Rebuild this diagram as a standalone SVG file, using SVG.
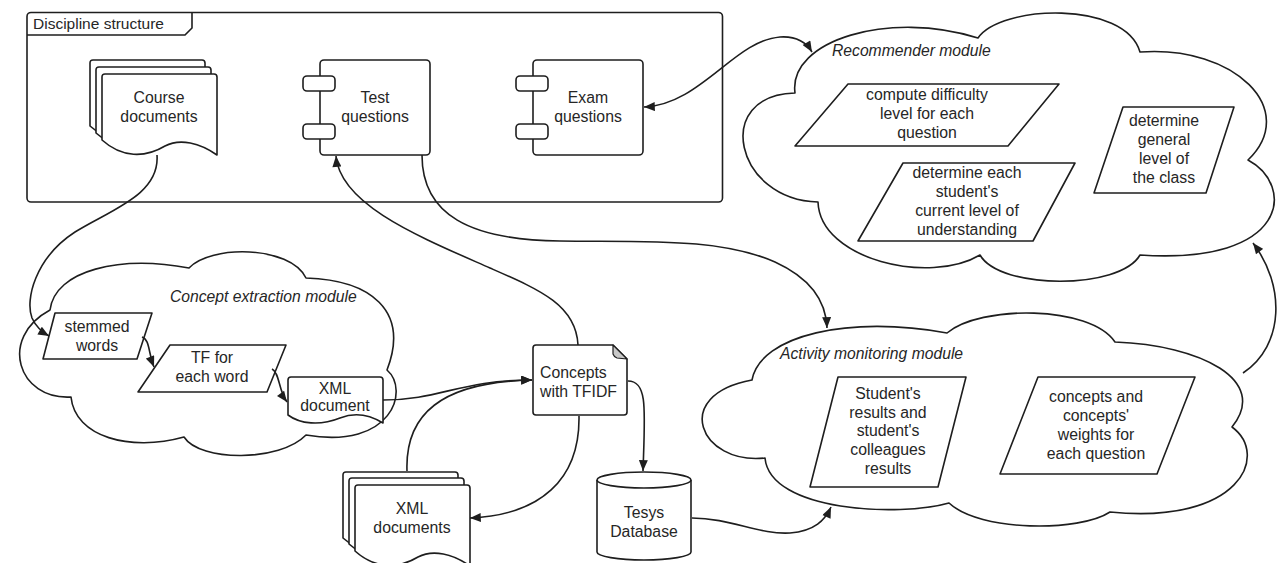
<svg xmlns="http://www.w3.org/2000/svg" width="1278" height="563" viewBox="0 0 1278 563">
<style>
.s{fill:#fff;stroke:#1e1e1e;stroke-width:1.6;stroke-linejoin:round}
.c{fill:none;stroke:#1e1e1e;stroke-width:1.6}
.t{font-family:"Liberation Sans",Arial,sans-serif;font-size:15.8px;fill:#262626;text-anchor:middle}
.ti{font-family:"Liberation Sans",Arial,sans-serif;font-size:15.7px;fill:#262626;font-style:italic}
.tl{font-family:"Liberation Sans",Arial,sans-serif;font-size:15.5px;fill:#262626}
</style>
<defs>
<marker id="ah" viewBox="0 0 12 10" refX="12" refY="5" markerWidth="12" markerHeight="9" markerUnits="userSpaceOnUse" orient="auto-start-reverse">
<path d="M0,0 L12,5 L0,10 Z" fill="#1e1e1e"/>
</marker>
<path id="doc" d="M0,66 V3 Q0,0 3,0 H112 Q115,0 115,3 V81 C98,69 78,64 63,72 C43,84 20,84 0,66 Z"/>
</defs>

<g id="discipline">
<rect class="s" x="27" y="12.5" width="695.5" height="189.5" rx="4"/>
<path class="c" d="M27,35 H185 L192,28 V12.5"/>
<text class="tl" x="33" y="28.5">Discipline structure</text>
</g>

<g id="course-documents">
<use href="#doc" class="s" x="90" y="60"/>
<use href="#doc" class="s" x="96" y="67"/>
<use href="#doc" class="s" x="102" y="74"/>
<text class="t" x="159" y="102.5">Course</text>
<text class="t" x="159" y="121.5">documents</text>
</g>

<g id="test-questions">
<rect class="s" x="320" y="60" width="110" height="95" rx="4"/>
<rect class="s" x="303" y="76" width="32" height="15" rx="4"/>
<rect class="s" x="303" y="124" width="32" height="15" rx="4"/>
<text class="t" x="375" y="102.5">Test</text>
<text class="t" x="375" y="121.5">questions</text>
</g>

<g id="exam-questions">
<rect class="s" x="533" y="60" width="110" height="95" rx="4"/>
<rect class="s" x="516" y="76" width="32" height="15" rx="4"/>
<rect class="s" x="516" y="124" width="32" height="15" rx="4"/>
<text class="t" x="588" y="102.5">Exam</text>
<text class="t" x="588" y="121.5">questions</text>
</g>

<g id="recommender-module">
<path class="s" d="M795,93 C788,40 890,10 978,38 C1000,5 1125,0 1140,52 C1235,45 1300,110 1248,160 C1295,185 1290,265 1140,255 C1120,290 1000,290 980,255 C930,285 820,260 818,202 C735,200 712,95 795,93 Z"/>
<text class="ti" x="832" y="55.5">Recommender module</text>
<g id="compute-difficulty">
<polygon class="s" points="848,84 1059,84 1008,146 795,146"/>
<text class="t" x="927" y="99.5">compute difficulty</text>
<text class="t" x="927" y="118.5">level for each</text>
<text class="t" x="927" y="137.5">question</text>
</g>
<g id="determine-student-level">
<polygon class="s" points="903,163 1075,163 1033,241 858,241"/>
<text class="t" x="967" y="177.5">determine each</text>
<text class="t" x="967" y="196.5">student's</text>
<text class="t" x="967" y="215.5">current level of</text>
<text class="t" x="967" y="234.5">understanding</text>
</g>
<g id="determine-class-level">
<polygon class="s" points="1123,107 1234,107 1206,193 1094,193"/>
<text class="t" x="1164" y="125.5">determine</text>
<text class="t" x="1164" y="144.5">general</text>
<text class="t" x="1164" y="163.5">level of</text>
<text class="t" x="1164" y="182.5">the class</text>
</g>
</g>

<g id="concept-extraction-module">
<path class="s" d="M50,310 C55,270 120,255 189,268 C210,245 290,245 306,278 C370,280 410,310 387,370 C410,390 392,450 306,435 C280,462 200,462 184,437 C130,452 75,437 71,397 C18,400 -2,338 50,310 Z"/>
<text class="ti" x="170" y="301.5">Concept extraction module</text>
<g id="stemmed-words">
<polygon class="s" points="55,313 152,313 137,359 43,359"/>
<text class="t" x="97" y="331.5">stemmed</text>
<text class="t" x="97" y="350.5">words</text>
</g>
<g id="tf-each-word">
<polygon class="s" points="170,345 286,345 267,392 138,392"/>
<text class="t" x="212" y="362.5">TF for</text>
<text class="t" x="212" y="381.5">each word</text>
</g>
<g id="xml-document">
<path class="s" d="M288,415 V380 Q288,377 291,377 H380 Q383,377 383,380 V423 C370,415 355,412 340,418 C320,426 300,424 288,415 Z"/>
<text class="t" x="335" y="393.5">XML</text>
<text class="t" x="335" y="410.5">document</text>
</g>
</g>

<g id="concepts-tfidf">
<path class="s" d="M536,345 H613 L627,359 V412 Q627,415 624,415 H536 Q533,415 533,412 V348 Q533,345 536,345 Z"/>
<path d="M613,345 L627,359 L617,358 Q614,357 613,354 Z" fill="#c8c8c8" stroke="#1e1e1e" stroke-width="1.2" stroke-linejoin="round"/>
<text class="t" x="540" y="377.5" style="text-anchor:start">Concepts</text>
<text class="t" x="540" y="396.5" style="text-anchor:start">with TFIDF</text>
</g>

<g id="xml-documents">
<use href="#doc" class="s" x="343" y="472"/>
<use href="#doc" class="s" x="349" y="478"/>
<use href="#doc" class="s" x="355" y="485"/>
<text class="t" x="412" y="513.5">XML</text>
<text class="t" x="412" y="532.5">documents</text>
</g>

<g id="tesys-database">
<path class="s" d="M597,480 V552 A47,8 0 0 0 691,552 V480 A47,8 0 0 0 597,480 Z"/>
<path class="c" d="M597,480 A47,8 0 0 0 691,480"/>
<text class="t" x="644" y="517.5">Tesys</text>
<text class="t" x="644" y="536.5">Database</text>
</g>

<g id="activity-monitoring-module">
<path class="s" d="M752,380 C760,335 850,315 947,333 C980,305 1090,305 1115,342 C1200,345 1270,380 1232,427 C1270,455 1240,525 1110,512 C1080,532 980,532 949,503 C900,517 770,512 765,458 C700,465 670,395 752,380 Z"/>
<text class="ti" x="780" y="358.5">Activity monitoring module</text>
<g id="student-results">
<polygon class="s" points="838,377 966,377 938,487 810,487"/>
<text class="t" x="888" y="398.5">Student's</text>
<text class="t" x="888" y="417.5">results and</text>
<text class="t" x="888" y="435.5">student's</text>
<text class="t" x="888" y="454.5">colleagues</text>
<text class="t" x="888" y="473.5">results</text>
</g>
<g id="concepts-weights">
<polygon class="s" points="1038,377 1195,377 1157,474 1000,474"/>
<text class="t" x="1096" y="401.5">concepts and</text>
<text class="t" x="1096" y="420.5">concepts'</text>
<text class="t" x="1096" y="439.5">weights for</text>
<text class="t" x="1096" y="458.5">each question</text>
</g>
</g>

<g id="connectors">
<path class="c" marker-end="url(#ah)" d="M157,155 C160,195 110,210 75,232 C35,258 25,300 32,318 C36,327 42,332 49,336"/>
<path class="c" marker-end="url(#ah)" d="M142,337 C150,340 148,352 154,367"/>
<path class="c" marker-end="url(#ah)" d="M272,369 C280,373 278,390 287,402"/>
<path class="c" marker-end="url(#ah)" d="M383,400 C440,400 460,380 532,380"/>
<path class="c" marker-end="url(#ah)" d="M407,471 C405,415 440,382 532,380"/>
<path class="c" marker-end="url(#ah)" d="M579,416 C580,480 540,515 470,518"/>
<path class="c" marker-end="url(#ah)" d="M628,381 C648,381 645,410 643,471"/>
<path class="c" marker-end="url(#ah)" d="M578,345 C576,305 540,290 490,268 C420,237 340,205 336,156"/>
<path class="c" marker-end="url(#ah)" d="M422,155 C422,215 470,240 560,241 C650,242 720,238 775,262 C810,278 826,300 827,328"/>
<path class="c" marker-start="url(#ah)" marker-end="url(#ah)" d="M644,107 C700,105 735,40 780,37 C795,36 806,42 812,52"/>
<path class="c" marker-end="url(#ah)" d="M692,518 C730,518 760,535 790,533 C815,531 825,520 831,507"/>
<path class="c" marker-end="url(#ah)" d="M1243,373 C1285,345 1285,285 1253,243"/>
</g>
</svg>
